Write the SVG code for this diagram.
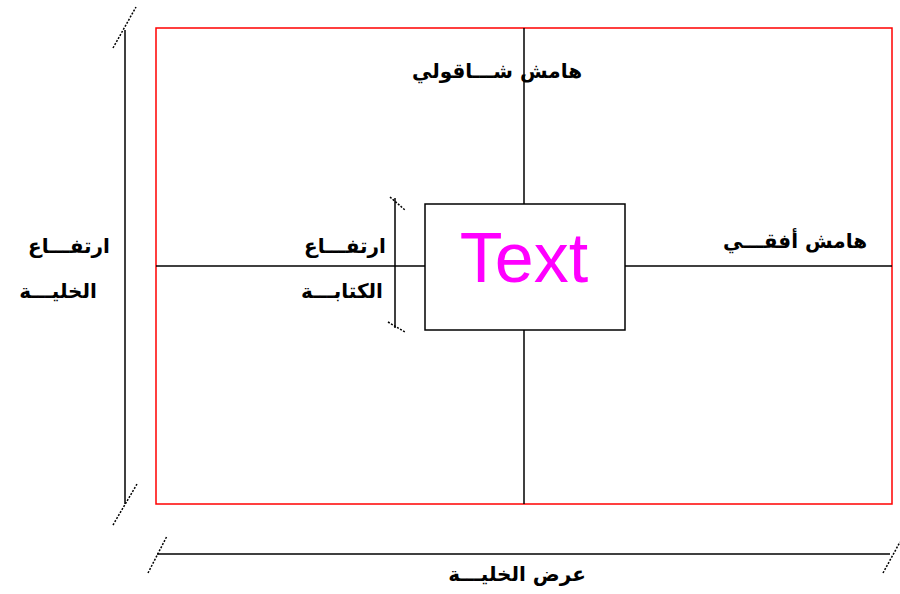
<svg xmlns="http://www.w3.org/2000/svg" width="900" height="594" viewBox="0 0 900 594">
<style>
.ln{stroke:#000;stroke-width:1.5;fill:none}
.tk{stroke:#000;stroke-width:1.5;stroke-dasharray:2 1.5;fill:none}
.ar{font-family:"DejaVu Sans",sans-serif;font-size:20px;font-weight:bold;fill:#000}
</style>
<rect width="900" height="594" fill="#fff"/>
<g id="cell"><rect x="156" y="28" width="736" height="476" fill="none" stroke="#f00" stroke-width="1.5"/></g>
<g id="connectors">
<line class="ln" x1="524" y1="28" x2="524" y2="504"/>
<line class="ln" x1="156" y1="266" x2="892" y2="266"/>
<line class="ln" x1="125" y1="30" x2="125" y2="504"/>
<line class="tk" x1="113" y1="48" x2="136" y2="7"/>
<line class="tk" x1="113" y1="525" x2="137" y2="484"/>
<line class="ln" x1="157" y1="554" x2="890" y2="554"/>
<line class="tk" x1="148" y1="573" x2="167" y2="536"/>
<line class="tk" x1="883" y1="573" x2="900" y2="542"/>
<line class="ln" x1="395" y1="198" x2="395" y2="328"/>
<line class="tk" x1="390" y1="197" x2="405" y2="210"/>
<line class="tk" x1="388" y1="322" x2="405" y2="332"/>
</g>
<g id="textbox">
<rect x="425" y="204" width="200" height="126" fill="#fff" stroke="#000" stroke-width="1.5"/>
<text x="524" y="282" text-anchor="middle" font-family="Liberation Sans, Arial, sans-serif" font-size="70" fill="#f0f">Text</text>
</g>
<g id="vmargin"><text class="ar" x="497" y="78" text-anchor="middle" direction="rtl">هامش شـــاقولي</text></g>
<g id="hmargin"><text class="ar" x="795" y="248" text-anchor="middle" direction="rtl">هامش أفقـــي</text></g>
<g id="cellheight">
<text class="ar" x="69" y="253" text-anchor="middle" direction="rtl">ارتفـــاع</text>
<text class="ar" x="58" y="298" text-anchor="middle" direction="rtl">الخليـــة</text>
</g>
<g id="textheight">
<text class="ar" x="345" y="253" text-anchor="middle" direction="rtl">ارتفـــاع</text>
<text class="ar" x="342" y="298" text-anchor="middle" direction="rtl">الكتابـــة</text>
</g>
<g id="cellwidth"><text class="ar" x="517" y="581" text-anchor="middle" direction="rtl">عرض الخليـــة</text></g>
</svg>
